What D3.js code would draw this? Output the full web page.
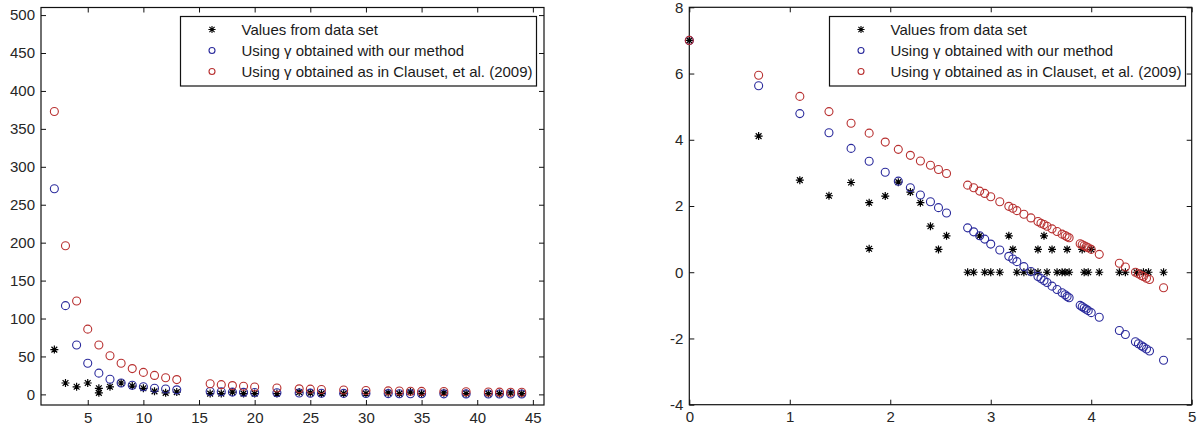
<!DOCTYPE html>
<html>
<head>
<meta charset="utf-8">
<script src="https://cdn.jsdelivr.net/npm/d3@7"></script>
<style>
  body { margin: 0; background: #fff; }
  text { font-family: "Liberation Sans", Arial, sans-serif; }
</style>
</head>
<body>
<div id="chart"></div>
<script>
// Left panel: raw values
var leftX = [2,3,4,5,6,7,8,9,10,11,12,13,16,17,18,19,20,22,24,25,26,28,30,32,33,34,35,37,39,41,42,43,44];
var leftBlue = [271,117,65,41,28,20,15,12,10,8,7,6,3.8,3.4,3.0,2.7,2.5,2.1,1.8,1.6,1.5,1.3,1.1,1.0,0.9,0.8,0.8,0.7,0.6,0.5,0.5,0.5,0.5];
var leftRed = [373,196,123,86,65,51,41,34,29,25,22,19.5,14,12.8,11.6,10.8,9.8,8.4,7.3,6.9,6.4,5.8,5.2,4.6,4.4,4.2,4.0,3.7,3.4,3.2,3.0,2.9,2.8];
var leftStarX = [2,3,4,5,6,6,7,8,9,10,11,12,13,16,17,18,19,20,22,24,25,26,28,30,32,33,34,35,37,39,41,42,43,44];
var leftStarY = [59,15,10,15,8,2,10,15,11,8,4,2,3,1,1,3,1,1,1,3,2,1,1,1,2,1,3,1,2,1,1,1,2,1];
var leftXTicks = [5,10,15,20,25,30,35,40,45];
var leftYTicks = [0,50,100,150,200,250,300,350,400,450,500];

// Right panel: log values
var rightX = [0,0.69,1.10,1.39,1.61,1.79,1.95,2.08,2.20,2.30,2.40,2.48,2.56,2.77,2.83,2.89,2.94,3.00,3.09,3.18,
  3.22,3.26,3.33,3.40,3.47,3.50,3.53,3.56,3.61,3.66,3.71,3.74,3.76,3.78,3.89,3.91,3.93,3.95,3.97,4.00,
  4.08,4.28,4.34,4.44,4.47,4.50,4.52,4.55,4.58,4.72];
var rightBlue = [7.0,5.63,4.79,4.21,3.74,3.35,3.02,2.75,2.55,2.33,2.13,1.95,1.79,1.34,1.22,1.10,1.00,0.85,0.67,0.48,
  0.40,0.32,0.17,0.02,-0.13,-0.19,-0.25,-0.31,-0.42,-0.52,-0.62,-0.68,-0.73,-0.77,-1.00,-1.04,-1.08,-1.12,-1.16,-1.22,
  -1.36,-1.76,-1.88,-2.10,-2.16,-2.22,-2.26,-2.32,-2.38,-2.66];
var rightRed = [7.0,5.95,5.31,4.85,4.50,4.20,3.93,3.71,3.53,3.36,3.23,3.10,2.98,2.63,2.55,2.45,2.38,2.28,2.13,1.99,
  1.93,1.86,1.75,1.64,1.53,1.48,1.44,1.39,1.31,1.23,1.15,1.11,1.07,1.04,0.86,0.83,0.80,0.77,0.74,0.69,
  0.54,0.27,0.16,0.00,-0.05,-0.10,-0.13,-0.18,-0.22,-0.47];
var rightStarX = [0,0.69,1.10,1.39,1.61,1.79,1.79,1.95,2.08,2.20,2.30,2.40,2.48,2.56,
  2.89,3.18,3.53,
  3.22,3.47,3.61,3.76,3.91,4.00,
  2.77,2.83,2.94,3.00,3.09,3.26,3.33,3.40,3.47,3.56,3.66,3.71,3.74,3.78,3.93,3.97,4.08,4.28,4.34,4.45,4.52,4.57,4.72];
var rightStarY = [7.0,4.11,2.78,2.31,2.71,2.10,0.71,2.30,2.72,2.42,2.10,1.39,0.69,1.10,
  1.10,1.10,1.10,
  0.69,0.69,0.69,0.69,0.69,0.69,
  0,0,0,0,0,0,0,0,0,0,0,0,0,0,0,0,0,0,0,0,0,0,0];
var rightXTicks = [0,1,2,3,4,5];
var rightYTicks = [-4,-2,0,2,4,6,8];

var legendLabels = ["Values from data set", "Using \u03b3 obtained with our method", "Using \u03b3 obtained as in Clauset, et al. (2009)"];

var blueColor = "#2a2a9c";
var redColor = "#b83030";

var svg = d3.select("#chart")
  .append("svg")
  .attr("width", 1204)
  .attr("height", 425);

svg.append("rect").attr("width", 1204).attr("height", 425).attr("fill", "#fff");

function starPath(s) {
  var d = s * 0.72;
  return `M${-s},0H${s}M0,${-s}V${s}M${-d},${-d}L${d},${d}M${-d},${d}L${d},${-d}`;
}

function drawPanel(p) {
  var x = d3.scaleLinear().domain(p.xDomain).range([p.left, p.right]);
  var y = d3.scaleLinear().domain(p.yDomain).range([p.bottom, p.top]);
  var g = svg.append("g");
  var fmt = d => String(d);

  // axes with inward ticks, mirrored on top and right
  var bottomAxis = d3.axisBottom(x).tickValues(p.xTicks).tickSizeInner(-5).tickSizeOuter(0).tickPadding(7).tickFormat(fmt);
  var leftAxis = d3.axisLeft(y).tickValues(p.yTicks).tickSizeInner(-5).tickSizeOuter(0).tickPadding(6).tickFormat(fmt);
  var topAxis = d3.axisTop(x).tickValues(p.xTicks).tickSizeInner(-5).tickSizeOuter(0).tickFormat("");
  var rightAxis = d3.axisRight(y).tickValues(p.yTicks).tickSizeInner(-5).tickSizeOuter(0).tickFormat("");

  [[bottomAxis, `translate(0,${p.bottom})`], [leftAxis, `translate(${p.left},0)`],
   [topAxis, `translate(0,${p.top})`], [rightAxis, `translate(${p.right},0)`]].forEach(function(a) {
    var ag = g.append("g").attr("transform", a[1]).call(a[0]);
    ag.select(".domain").remove();
    ag.selectAll("line").attr("stroke", "#111");
    ag.selectAll("text").attr("font-size", 15).attr("fill", "#262626")
      .attr("font-family", "'Liberation Sans', Arial, sans-serif");
  });

  g.append("rect")
    .attr("x", p.left).attr("y", p.top)
    .attr("width", p.right - p.left).attr("height", p.bottom - p.top)
    .attr("fill", "none").attr("stroke", "#111").attr("stroke-width", 1.2);

  // stars
  g.selectAll(".star").data(p.starX).enter().append("path")
    .attr("class", "star")
    .attr("d", starPath(4))
    .attr("transform", (d, i) => `translate(${x(d)},${y(p.starY[i])})`)
    .attr("fill", "none").attr("stroke", "#000").attr("stroke-width", 1.2);

  // blue circles
  g.selectAll(".blue").data(p.xs).enter().append("circle")
    .attr("class", "blue")
    .attr("cx", d => x(d)).attr("cy", (d, i) => y(p.blue[i]))
    .attr("r", 4).attr("fill", "none").attr("stroke", blueColor).attr("stroke-width", 1.1);

  // red circles
  g.selectAll(".red").data(p.xs).enter().append("circle")
    .attr("class", "red")
    .attr("cx", d => x(d)).attr("cy", (d, i) => y(p.red[i]))
    .attr("r", 4).attr("fill", "none").attr("stroke", redColor).attr("stroke-width", 1.1);

  // legend
  var lg = g.append("g").attr("transform", `translate(${p.legendX},16.5)`);
  lg.append("rect").attr("width", 356).attr("height", 69.5)
    .attr("fill", "#fff").attr("stroke", "#111").attr("stroke-width", 1.2);
  legendLabels.forEach(function(label, i) {
    var cy = 13 + i * 21;
    if (i === 0) {
      lg.append("path").attr("d", starPath(3.6)).attr("transform", `translate(31.5,${cy})`)
        .attr("fill", "none").attr("stroke", "#000").attr("stroke-width", 1.1);
    } else {
      lg.append("circle").attr("cx", 31.5).attr("cy", cy).attr("r", 3)
        .attr("fill", "none").attr("stroke", i === 1 ? blueColor : redColor).attr("stroke-width", 1.1);
    }
    lg.append("text").attr("x", 61).attr("y", cy).attr("dy", "0.36em")
      .attr("font-size", 15).attr("fill", "#1a1a1a").text(label);
  });
}

drawPanel({
  xDomain: [0.8, 46], yDomain: [-14, 510],
  left: 41, right: 544, top: 7.5, bottom: 405,
  xTicks: leftXTicks, yTicks: leftYTicks,
  xs: leftX, blue: leftBlue, red: leftRed, starX: leftStarX, starY: leftStarY,
  legendX: 180.5
});

drawPanel({
  xDomain: [0, 5], yDomain: [-4, 8],
  left: 689.3, right: 1191.7, top: 7.3, bottom: 404.7,
  xTicks: rightXTicks, yTicks: rightYTicks,
  xs: rightX, blue: rightBlue, red: rightRed, starX: rightStarX, starY: rightStarY,
  legendX: 829.5
});
</script>
</body>
</html>
